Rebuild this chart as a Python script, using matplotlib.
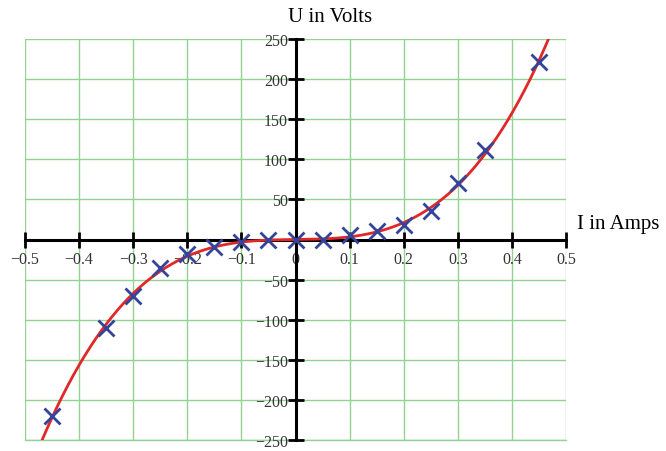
import numpy as np
import matplotlib
matplotlib.use("Agg")
import matplotlib.pyplot as plt

# measured points (current in A, voltage in V)
current = [-0.45, -0.35, -0.3, -0.25, -0.2, -0.15, -0.1, -0.05, 0.0,
           0.05, 0.1, 0.15, 0.2, 0.25, 0.3, 0.35, 0.45]
voltage = [-220, -110, -70, -36, -18, -9, -3, -1, 0,
           -1, 5, 10, 18, 36, 70, 111, 221]

x_ticks = [-0.5, -0.4, -0.3, -0.2, -0.1, 0, 0.1, 0.2, 0.3, 0.4, 0.5]
x_labels = ["\u22120.5", "\u22120.4", "\u22120.3", "\u22120.2", "\u22120.1", "0",
            "0.1", "0.2", "0.3", "0.4", "0.5"]
y_ticks = [-250, -200, -150, -100, -50, 0, 50, 100, 150, 200, 250]
y_labels = ["\u2212250", "\u2212200", "\u2212150", "\u2212100", "\u221250", "",
            "50", "100", "150", "200", "250"]

plt.rcParams['font.family'] = ['Liberation Serif', 'DejaVu Serif']

fig = plt.figure(figsize=(6.66, 4.52), dpi=100)
ax = fig.add_axes([25 / 666, 1 - 441 / 452, 541 / 666, 401 / 452])

# cubic fit through the measured points
coef = np.polyfit(current, voltage, 3)
xs = np.linspace(-0.5, 0.5, 400)
ax.plot(xs, np.polyval(coef, xs), color='#e02828', linewidth=2, zorder=3)
ax.plot(current, voltage, linestyle='none', marker='x', markersize=11,
        markeredgewidth=2, color='#33449a', zorder=4)

ax.set_xlim(-0.5, 0.5)
ax.set_ylim(-250, 250)
ax.set_xticks(x_ticks)
ax.set_xticklabels(x_labels)
ax.set_yticks(y_ticks)
ax.set_yticklabels(y_labels)
ax.grid(True, color='#94d294', linewidth=1)
ax.set_axisbelow(True)
for gl in ax.get_xgridlines() + ax.get_ygridlines():
    gl.set_clip_on(False)
ax.axhline(y_ticks[0], color='#94d294', linewidth=1, clip_on=False, zorder=0.5)

ax.spines['left'].set_position('zero')
ax.spines['bottom'].set_position('zero')
ax.spines['right'].set_visible(False)
ax.spines['top'].set_visible(False)
for s in ('left', 'bottom'):
    ax.spines[s].set_linewidth(2.2)
    ax.spines[s].set_zorder(2.5)
ax.tick_params(direction='inout', length=11, width=2, labelsize=11.5,
               colors='black', labelcolor='#333333', pad=3)
ax.tick_params(axis='y', pad=0)

fig.text(330 / 666, 1 - 17 / 452, "U in Volts", ha='center', va='center', fontsize=15)
fig.text(577 / 666, 1 - 225 / 452, "I in Amps", ha='left', va='center', fontsize=15)

fig.savefig("out.png", dpi=100)
